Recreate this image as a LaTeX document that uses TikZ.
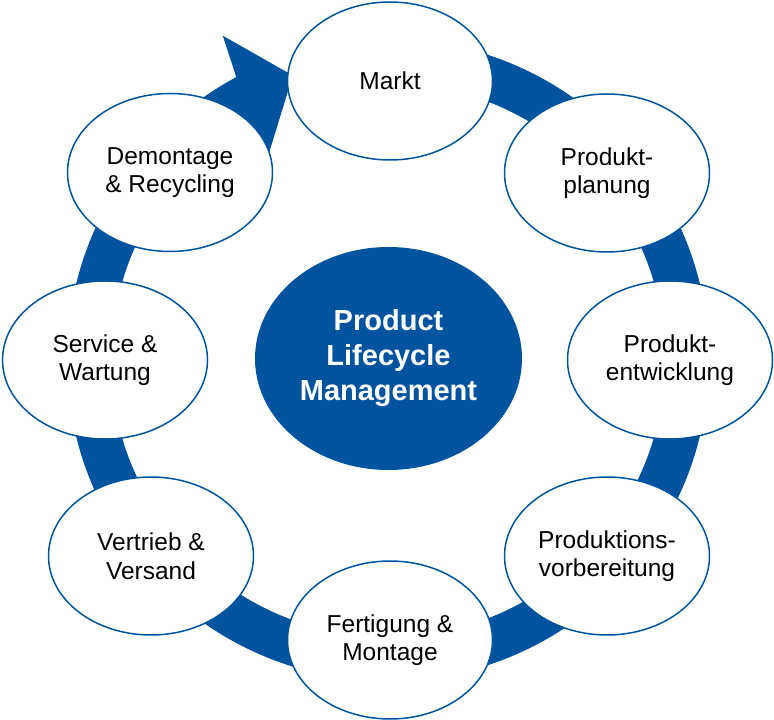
\documentclass[tikz,border=0pt]{standalone}
\usepackage{fontspec}
\setmainfont{Liberation Sans}
\usetikzlibrary{shapes.geometric}
\definecolor{plmblue}{RGB}{0,84,159}
\tikzset{
  phase/.style={ellipse, draw=plmblue, line width=1.5pt, fill=white, minimum width=205pt, minimum height=158pt, inner sep=0pt, align=center, font=\fontsize{24.5}{28.5}\selectfont},
  core/.style={ellipse, fill=plmblue, minimum width=267pt, minimum height=223pt, inner sep=0pt, align=center, text=white, font=\fontsize{29}{35}\selectfont\bfseries}
}
\begin{document}
\begin{tikzpicture}[x=1pt,y=1pt]
\useasboundingbox (0,0) rectangle (774,720);
\fill [plmblue,shift={(388,360)}] (85:277) -- (85:321) arc[start angle=85,end angle=-241.8,radius=321] -- (117:364) -- (108.5:300) -- (122:231) -- (-239.5:277) arc[start angle=-239.5,end angle=85,radius=277] -- cycle;
\node [core] (plm) at (388.5,361.5) {Product\\Lifecycle\\Management};
\node [phase] (markt) at (390,639) {Markt};
\node [phase] (planung) at (607,547) {Produkt-\\planung};
\node [phase] (entwicklung) at (670,360) {Produkt-\\entwicklung};
\node [phase] (vorbereitung) at (607,164) {Produktions-\\vorbereitung};
\node [phase] (fertigung) at (390,80) {Fertigung \&\\Montage};
\node [phase] (vertrieb) at (151,164) {Vertrieb \&\\Versand};
\node [phase] (service) at (105,360) {Service \&\\Wartung};
\node [phase] (demontage) at (170,547.5) {Demontage\\\& Recycling};
\end{tikzpicture}
\end{document}
